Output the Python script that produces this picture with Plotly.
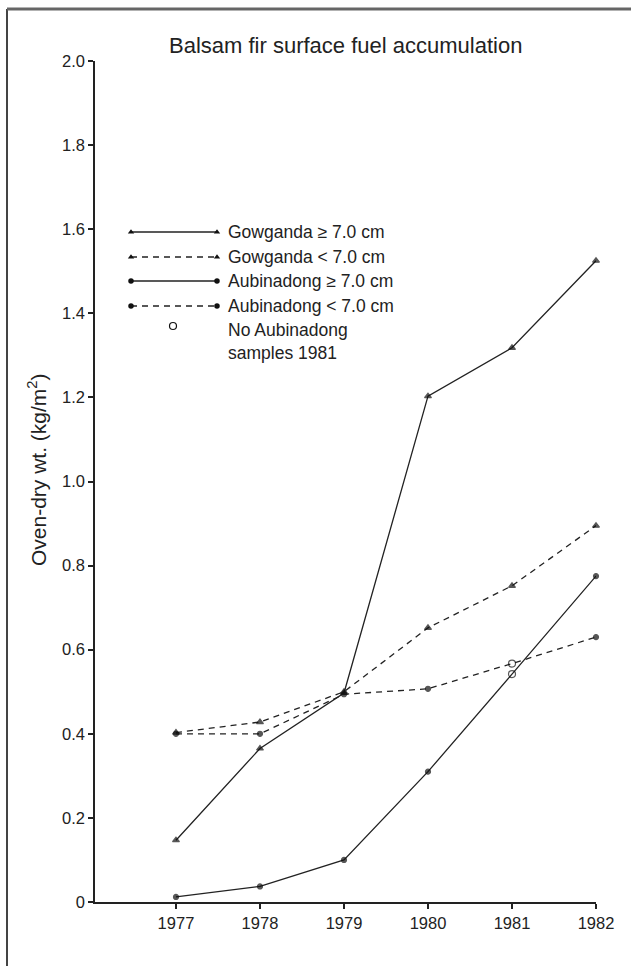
import plotly.graph_objects as go

# ---------------- data ----------------
years = [1977, 1978, 1979, 1980, 1981, 1982]
gowganda_ge7 = [0.147, 0.365, 0.497, 1.203, 1.318, 1.525]
gowganda_lt7 = [0.403, 0.428, 0.500, 0.652, 0.752, 0.895]
aubinadong_ge7 = [0.012, 0.037, 0.100, 0.310, 0.542, 0.775]
aubinadong_lt7 = [0.400, 0.400, 0.494, 0.507, 0.567, 0.630]
no_sample_year = 1981

series_names = ["Gowganda \u2265 7.0 cm", "Gowganda < 7.0 cm",
                "Aubinadong \u2265 7.0 cm", "Aubinadong < 7.0 cm"]
note_text = "No Aubinadong<br>samples 1981"
title_text = "Balsam fir surface fuel accumulation"
y_title = "Oven-dry wt. (kg/m<sup>2</sup>)"
y_tick_vals = [0, 0.2, 0.4, 0.6, 0.8, 1.0, 1.2, 1.4, 1.6, 1.8, 2.0]
y_tick_text = ["0", "0.2", "0.4", "0.6", "0.8", "1.0", "1.2", "1.4", "1.6", "1.8", "2.0"]
x_tick_vals = years
x_tick_text = [str(y) for y in years]

# ---------------- layout constants (pixels) ----------------
W, H = 631, 966
L, R, T, B = 95, 35, 61, 64
PX0, PX1 = L, W - R          # plot area x pixels
PY0, PY1 = T, H - B          # plot area y pixels (top, bottom)
INK = "#222222"
MARK = "#111111"
FONT = "Liberation Sans, Arial, Helvetica, sans-serif"


def px_x(p):
    return (p - PX0) / (PX1 - PX0)


def px_y(p):
    return (PY1 - p) / (PY1 - PY0)


styles = [
    dict(dash="solid", symbol="triangle-up"),
    dict(dash="6px,5px", symbol="triangle-up"),
    dict(dash="solid", symbol="circle"),
    dict(dash="6px,5px", symbol="circle"),
]
values = [gowganda_ge7, gowganda_lt7, aubinadong_ge7, aubinadong_lt7]

fig = go.Figure()

for name, vals, st in zip(series_names, values, styles):
    is_aub = name.startswith("Aubinadong")
    symbols, sizes = [], []
    for yr in years:
        if is_aub and yr == no_sample_year:
            symbols.append("circle-open")
            sizes.append(7)
        else:
            symbols.append(st["symbol"])
            sizes.append(6 if st["symbol"] == "triangle-up" else 5)
    fig.add_trace(go.Scatter(
        x=years, y=vals, mode="lines+markers", name=name,
        line=dict(color=INK, width=1.3, dash=st["dash"]),
        marker=dict(symbol=symbols, size=sizes, color=MARK,
                    line=dict(color=MARK, width=1.2)),
        cliponaxis=False, showlegend=False, hoverinfo="skip",
    ))

# ---------------- custom legend (pixel-coordinate overlay axis) ----------------
leg_x0, leg_x1, leg_text_x = 131, 217, 226
leg_rows = [232, 257, 281, 306]
for name, st, ry in zip(series_names, styles, leg_rows):
    fig.add_trace(go.Scatter(
        x=[leg_x0, leg_x1], y=[ry, ry], xaxis="x2", yaxis="y2",
        mode="lines+markers",
        line=dict(color=INK, width=1.3, dash=st["dash"]),
        marker=dict(symbol=st["symbol"], size=5.5, color=MARK),
        showlegend=False, hoverinfo="skip",
    ))
    fig.add_annotation(x=px_x(leg_text_x), y=px_y(ry), xref="paper", yref="paper",
                       text=name, showarrow=False, xanchor="left", yanchor="middle",
                       font=dict(size=17.5, color=INK, family=FONT))
fig.add_trace(go.Scatter(
    x=[173], y=[326], xaxis="x2", yaxis="y2", mode="markers",
    marker=dict(symbol="circle-open", size=7, color=MARK, line=dict(width=1.2)),
    showlegend=False, hoverinfo="skip",
))
fig.add_annotation(x=px_x(leg_text_x), y=px_y(318), xref="paper", yref="paper",
                   text=note_text, showarrow=False, xanchor="left", yanchor="top",
                   align="left",
                   font=dict(size=17.5, color=INK, family=FONT))

# title and y-axis title
fig.add_annotation(x=px_x(345), y=px_y(45), xref="paper", yref="paper", text=title_text,
                   showarrow=False, xanchor="center", yanchor="middle",
                   font=dict(size=22, color=INK, family=FONT))
fig.add_annotation(x=px_x(37), y=px_y(470), xref="paper", yref="paper", text=y_title,
                   showarrow=False, textangle=-90, xanchor="center", yanchor="middle",
                   font=dict(size=21, color=INK, family=FONT))

# frame of the scanned figure
fig.add_shape(type="line", xref="paper", yref="paper",
              x0=px_x(7), x1=px_x(7), y0=px_y(9), y1=px_y(H + 5),
              line=dict(color="#444", width=2))
fig.add_shape(type="line", xref="paper", yref="paper",
              x0=px_x(7), x1=px_x(W + 5), y0=px_y(9), y1=px_y(9),
              line=dict(color="#666", width=3))

fig.update_layout(
    width=W, height=H,
    margin=dict(l=L, r=R, t=T, b=B, pad=0),
    paper_bgcolor="white", plot_bgcolor="white",
    font=dict(family=FONT, color=INK, size=16),
    xaxis=dict(range=[1976.036, 1982], tickvals=x_tick_vals, ticktext=x_tick_text,
               showgrid=False, zeroline=False, showline=True, linecolor=INK, linewidth=1.5,
               ticks="outside", ticklen=5, tickwidth=1.5, tickcolor=INK,
               tickfont=dict(size=16.5, color=INK, family=FONT)),
    yaxis=dict(range=[0, 2.0], tickvals=y_tick_vals, ticktext=y_tick_text,
               showgrid=False, zeroline=False, showline=True, linecolor=INK, linewidth=1.5,
               ticks="outside", ticklen=5, tickwidth=1.5, tickcolor=INK,
               tickfont=dict(size=16.5, color=INK, family=FONT)),
    xaxis2=dict(range=[PX0, PX1], domain=[0, 1], overlaying="x", visible=False,
                fixedrange=True),
    yaxis2=dict(range=[PY1, PY0], domain=[0, 1], overlaying="y", visible=False,
                fixedrange=True),
)

fig.write_html("out.html")
